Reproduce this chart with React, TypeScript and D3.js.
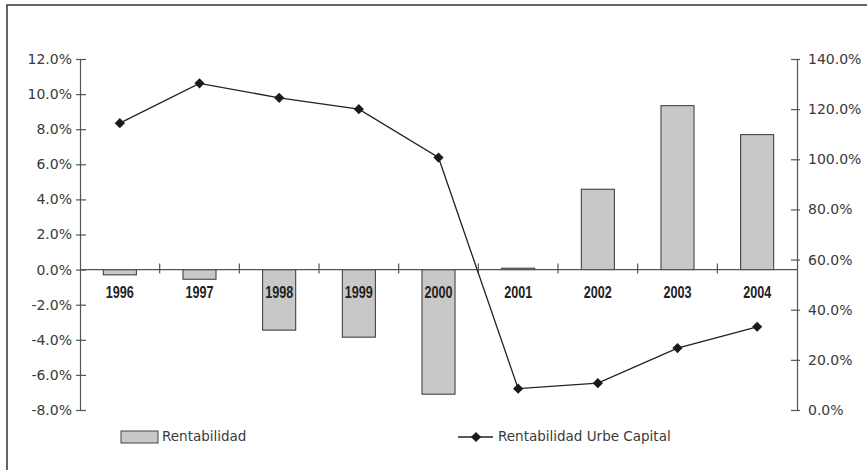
import { useEffect, useRef } from "react";
import * as d3 from "d3";

// values
const years = ["1996", "1997", "1998", "1999", "2000", "2001", "2002", "2003", "2004"];
const rentabilidad = [-0.3, -0.55, -3.45, -3.85, -7.1, 0.08, 4.58, 9.34, 7.69];
const rentabilidadUrbe = [114.4, 130.3, 124.5, 120.0, 100.7, 8.5, 10.7, 24.7, 33.2];
const leftTicks = [-8, -6, -4, -2, 0, 2, 4, 6, 8, 10, 12];
const rightTicks = [0, 20, 40, 60, 80, 100, 120, 140];
const seriesNames = ["Rentabilidad", "Rentabilidad Urbe Capital"];

const W = 867;
const H = 470;

const App = () => {
  const svgRef = useRef<SVGSVGElement>(null);

  useEffect(() => {
    const svg = d3.select(svgRef.current);
    svg.selectAll("*").remove();

    const left = 80;
    const right = 797;
    const top = 59;
    const bottom = 410;
    const labelFont = "'DejaVu Sans', sans-serif";
    const yearFont = "'Liberation Sans', Arial, sans-serif";

    // frame (only top and left sides are visible)
    svg.append("path")
      .attr("d", `M7,${H} L7,5 L${W},5`)
      .attr("fill", "none")
      .attr("stroke", "#333")
      .attr("stroke-width", 1.5);

    const x = d3.scaleBand().domain(years).range([left, right]).padding(0);
    const yL = d3.scaleLinear().domain([-8, 12]).range([bottom, top]);
    const yR = d3.scaleLinear().domain([0, 140]).range([bottom, top]);
    const barW = x.bandwidth() * 0.415;

    // bars
    svg.append("g")
      .selectAll("rect")
      .data(years)
      .join("rect")
      .attr("x", (d) => x(d)! + x.bandwidth() / 2 - barW / 2)
      .attr("y", (d, i) => yL(Math.max(0, rentabilidad[i])))
      .attr("width", barW)
      .attr("height", (d, i) => Math.abs(yL(rentabilidad[i]) - yL(0)))
      .attr("fill", "#c8c8c8")
      .attr("stroke", "#333")
      .attr("stroke-width", 1);

    // left axis
    const gL = svg.append("g")
      .attr("transform", `translate(${left},0)`)
      .call(d3.axisLeft(yL).tickValues(leftTicks).tickSize(4).tickPadding(4)
        .tickFormat((d) => `${(+d).toFixed(1)}%`));
    gL.select(".domain").attr("stroke", "#555").attr("stroke-width", 1.2);
    gL.selectAll(".tick line").attr("x1", 6).attr("stroke", "#555").attr("stroke-width", 1.2);
    gL.selectAll(".tick text")
      .attr("font-family", labelFont).attr("font-size", 14).attr("fill", "#3a3a3a");

    // right axis
    const gR = svg.append("g")
      .attr("transform", `translate(${right},0)`)
      .call(d3.axisRight(yR).tickValues(rightTicks).tickSize(3).tickPadding(8)
        .tickFormat((d) => `${(+d).toFixed(1)}%`));
    gR.select(".domain").attr("stroke", "#555").attr("stroke-width", 1.2);
    gR.selectAll(".tick line").attr("x1", -6).attr("stroke", "#555").attr("stroke-width", 1.2);
    gR.selectAll(".tick text")
      .attr("font-family", labelFont).attr("font-size", 14).attr("fill", "#3a3a3a");

    // category axis at zero
    const y0 = yL(0);
    svg.append("line")
      .attr("x1", left).attr("x2", right)
      .attr("y1", y0).attr("y2", y0)
      .attr("stroke", "#555").attr("stroke-width", 1.2);
    svg.append("g")
      .selectAll("line")
      .data(years.slice(1))
      .join("line")
      .attr("x1", (d) => x(d)!).attr("x2", (d) => x(d)!)
      .attr("y1", y0 - 6).attr("y2", y0 + 4)
      .attr("stroke", "#555").attr("stroke-width", 1.2);
    // condensed bold year labels (squeezed, no narrow font installed)
    svg.append("g")
      .selectAll("text")
      .data(years)
      .join("text")
      .attr("x", (d) => x(d)! + x.bandwidth() / 2)
      .attr("y", y0 + 28)
      .attr("text-anchor", "middle")
      .attr("font-family", yearFont)
      .attr("font-weight", "bold")
      .attr("font-size", 16)
      .attr("textLength", 28)
      .attr("lengthAdjust", "spacingAndGlyphs")
      .attr("fill", "#222")
      .text((d) => d);

    // line series on right axis
    const line = d3.line<number>()
      .x((d, i) => x(years[i])! + x.bandwidth() / 2)
      .y((d) => yR(d));
    svg.append("path")
      .datum(rentabilidadUrbe)
      .attr("d", line)
      .attr("fill", "none")
      .attr("stroke", "#222")
      .attr("stroke-width", 1.3);
    const diamond = d3.symbol(d3.symbolSquare, 52)();
    svg.append("g")
      .selectAll("path")
      .data(rentabilidadUrbe)
      .join("path")
      .attr("d", diamond)
      .attr("transform", (d, i) =>
        `translate(${x(years[i])! + x.bandwidth() / 2},${yR(d)}) rotate(45)`)
      .attr("fill", "#1a1a1a");

    // legend
    const lg = svg.append("g");
    lg.append("rect")
      .attr("x", 121).attr("y", 431).attr("width", 37).attr("height", 12)
      .attr("fill", "#c8c8c8").attr("stroke", "#444").attr("stroke-width", 1);
    lg.append("text")
      .attr("x", 162).attr("y", 441)
      .attr("font-family", labelFont).attr("font-size", 13.5).attr("fill", "#3a3a3a")
      .text(seriesNames[0]);
    lg.append("line")
      .attr("x1", 458).attr("x2", 493).attr("y1", 437).attr("y2", 437)
      .attr("stroke", "#222").attr("stroke-width", 1.3);
    lg.append("path")
      .attr("d", diamond)
      .attr("transform", "translate(476,437) rotate(45)")
      .attr("fill", "#1a1a1a");
    lg.append("text")
      .attr("x", 498).attr("y", 441)
      .attr("font-family", labelFont).attr("font-size", 13.5).attr("fill", "#3a3a3a")
      .text(seriesNames[1]);
  }, []);

  return (
    <svg
      ref={svgRef}
      width={W}
      height={H}
      style={{ position: "absolute", left: 0, top: 0, background: "#fff" }}
    />
  );
};

export default App;
